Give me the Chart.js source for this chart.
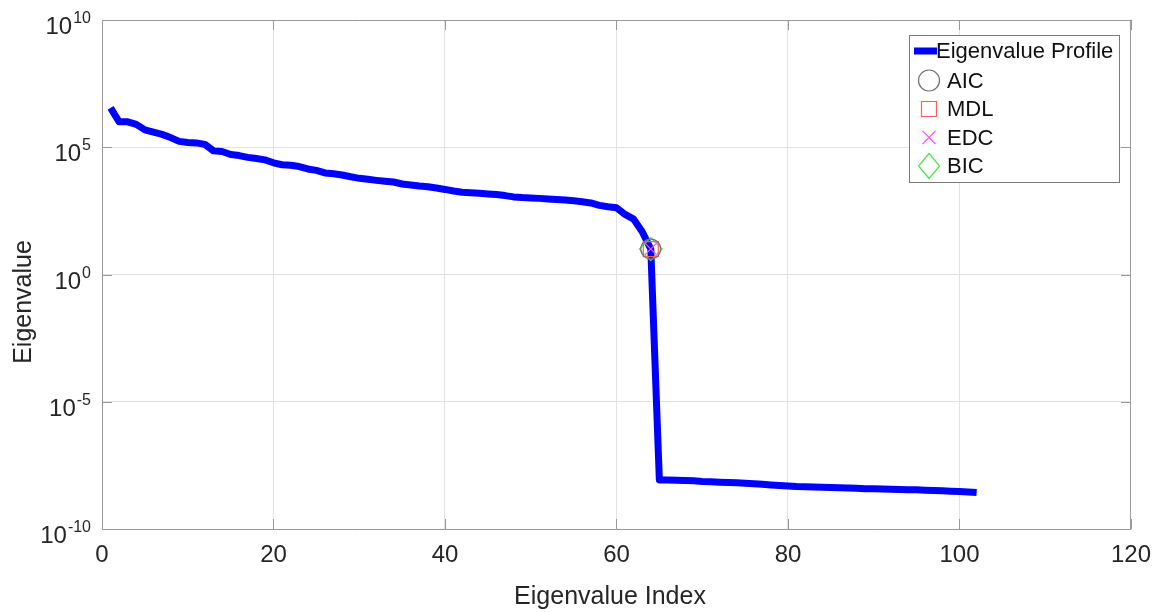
<!DOCTYPE html>
<html>
<head>
<meta charset="utf-8">
<script src="https://cdn.jsdelivr.net/npm/chart.js@4/dist/chart.umd.min.js"></script>
<style>
  html, body { margin: 0; padding: 0; background: #ffffff; }
  #wrap { width: 1163px; height: 612px; }
</style>
</head>
<body>
<div id="wrap"><canvas id="c" width="1163" height="612"></canvas></div>
<script>
// Sorted eigenvalues, index 1..102
const eigenvalues = [
  3.5e6, 1.0e6, 1.0e6, 7.9e5, 4.8e5, 3.9e5, 3.2e5, 2.4e5, 1.7e5, 1.55e5,
  1.48e5, 1.3e5, 7.2e4, 6.8e4, 5.2e4, 4.7e4, 4.0e4, 3.6e4, 3.2e4, 2.45e4,
  2.05e4, 1.95e4, 1.75e4, 1.4e4, 1.23e4, 9.8e3, 9.1e3, 8.1e3, 6.9e3, 6.0e3,
  5.5e3, 5.0e3, 4.6e3, 4.3e3, 3.6e3, 3.3e3, 3.0e3, 2.8e3, 2.5e3, 2.2e3,
  1.9e3, 1.7e3, 1.62e3, 1.55e3, 1.45e3, 1.38e3, 1.26e3, 1.12e3, 1.05e3, 1.02e3,
  980, 930, 890, 850, 790, 720, 650, 520, 460, 420,
  230, 150, 48, 10, 8.5e-9, 8.4e-9, 8.3e-9, 8.1e-9, 7.8e-9, 7.4e-9,
  7.2e-9, 6.9e-9, 6.7e-9, 6.5e-9, 6.3e-9, 6.0e-9, 5.7e-9, 5.4e-9, 5.1e-9, 4.9e-9,
  4.7e-9, 4.6e-9, 4.5e-9, 4.4e-9, 4.3e-9, 4.2e-9, 4.1e-9, 4.0e-9, 3.85e-9, 3.8e-9,
  3.7e-9, 3.65e-9, 3.55e-9, 3.5e-9, 3.45e-9, 3.35e-9, 3.25e-9, 3.15e-9, 3.05e-9, 3.0e-9,
  2.85e-9, 2.7e-9
];
const eigenIndex = eigenvalues.map((_, i) => i + 1);

// Model-order estimates from each criterion (all pick the same index)
const criteriaNames = ['AIC', 'MDL', 'EDC', 'BIC'];
const criteriaOrder = [64, 64, 64, 64];

// Axis ticks and titles
const xTicks = [0, 20, 40, 60, 80, 100, 120];
const yTickExponents = [10, 5, 0, -5, -10];
const xTitle = 'Eigenvalue Index';
const yTitle = 'Eigenvalue';

const FONT = '"Liberation Sans", Arial, Helvetica, sans-serif';
const TEXT = '#262626';
const AXIS = '#999999';
const GRID = '#e2e2e2';

const markerStyles = {
  AIC: { pointStyle: 'circle',   radius: 10,   color: '#707070' },
  MDL: { pointStyle: 'rect',     radius: 10.6, color: '#ff5c5c' },
  EDC: { pointStyle: 'crossRot', radius: 9,    color: '#ff55ff' },
  BIC: { pointStyle: 'rectRot',  radius: 11.5, color: '#44e844' }
};

const profilePoints = eigenIndex.map((k, i) => ({ x: k, y: eigenvalues[i] }));

const criteriaSets = criteriaNames.map((name, j) => {
  const k = criteriaOrder[j];
  const st = markerStyles[name];
  return {
    label: name,
    data: [{ x: k, y: eigenvalues[k - 1] }],
    showLine: false,
    pointStyle: st.pointStyle,
    pointRadius: st.radius,
    pointHoverRadius: st.radius,
    pointBorderColor: st.color,
    pointBackgroundColor: 'rgba(0,0,0,0)',
    pointBorderWidth: 1.2,
    borderColor: st.color,
    backgroundColor: 'rgba(0,0,0,0)',
    order: 0
  };
});

// Box frame and inward tick marks on all four sides
const framePlugin = {
  id: 'frame',
  beforeDatasetsDraw(chart) {
    const { ctx, chartArea: a, scales } = chart;
    ctx.save();
    ctx.strokeStyle = AXIS;
    ctx.lineWidth = 1;
    ctx.beginPath();
    ctx.moveTo(a.left, a.top + 0.5); ctx.lineTo(a.right, a.top + 0.5);
    ctx.moveTo(a.right - 0.5, a.top); ctx.lineTo(a.right - 0.5, a.bottom);
    const L = 10;
    xTicks.forEach(v => {
      const px = Math.round(scales.x.getPixelForValue(v)) + 0.5;
      ctx.moveTo(px, a.bottom); ctx.lineTo(px, a.bottom - L);
      ctx.moveTo(px, a.top); ctx.lineTo(px, a.top + L);
    });
    yTickExponents.forEach(e => {
      const py = Math.round(scales.y.getPixelForValue(Math.pow(10, e))) + 0.5;
      ctx.moveTo(a.left, py); ctx.lineTo(a.left + L, py);
      ctx.moveTo(a.right, py); ctx.lineTo(a.right - L, py);
    });
    ctx.stroke();
    ctx.restore();
  }
};

function drawMarker(ctx, style, x, y) {
  ctx.save();
  ctx.strokeStyle = style.color;
  ctx.lineWidth = 1.2;
  ctx.beginPath();
  if (style.pointStyle === 'circle') {
    ctx.arc(x, y, 10.5, 0, Math.PI * 2);
  } else if (style.pointStyle === 'rect') {
    ctx.rect(x - 7.5, y - 7.5, 15, 15);
  } else if (style.pointStyle === 'crossRot') {
    ctx.moveTo(x - 6.5, y - 6.5); ctx.lineTo(x + 6.5, y + 6.5);
    ctx.moveTo(x + 6.5, y - 6.5); ctx.lineTo(x - 6.5, y + 6.5);
  } else {
    ctx.moveTo(x, y - 12.5); ctx.lineTo(x + 10.5, y);
    ctx.lineTo(x, y + 12.5); ctx.lineTo(x - 10.5, y); ctx.closePath();
  }
  ctx.stroke();
  ctx.restore();
}

// Power-of-ten tick labels, axis titles and the legend box
const overlayPlugin = {
  id: 'overlay',
  afterDraw(chart) {
    const { ctx, scales } = chart;
    ctx.save();
    ctx.fillStyle = TEXT;
    ctx.textBaseline = 'alphabetic';
    yTickExponents.forEach(e => {
      const py = scales.y.getPixelForValue(Math.pow(10, e));
      const sup = String(e);
      ctx.font = '16px ' + FONT;
      const supW = ctx.measureText(sup).width;
      const right = 91;
      ctx.textAlign = 'left';
      ctx.fillText(sup, right - supW, py + 3);
      ctx.font = '24px ' + FONT;
      ctx.textAlign = 'right';
      ctx.fillText('10', right - supW - 1, py + 14);
    });

    // axis titles
    ctx.font = '25px ' + FONT;
    ctx.textAlign = 'center';
    ctx.textBaseline = 'alphabetic';
    ctx.fillText(xTitle, 610, 604);
    ctx.save();
    ctx.translate(31, 302);
    ctx.rotate(-Math.PI / 2);
    ctx.fillText(yTitle, 0, 0);
    ctx.restore();

    // legend
    const bx = 909.5, by = 35.5, bw = 210, bh = 147;
    ctx.fillStyle = '#ffffff';
    ctx.fillRect(bx, by, bw, bh);
    ctx.strokeStyle = '#7a7a7a';
    ctx.lineWidth = 1;
    ctx.strokeRect(bx, by, bw, bh);

    const ds = chart.data.datasets;
    const rowY = [51, 80.5, 109, 137.5, 166];
    ctx.font = '22px ' + FONT;
    ctx.textAlign = 'left';
    ctx.textBaseline = 'middle';

    ctx.strokeStyle = ds[0].borderColor;
    ctx.lineWidth = 7;
    ctx.beginPath();
    ctx.moveTo(914, rowY[0]); ctx.lineTo(937, rowY[0]);
    ctx.stroke();
    ctx.fillStyle = '#111111';
    ctx.fillText(ds[0].label, 936, rowY[0] + 1);

    for (let j = 1; j < ds.length; j++) {
      drawMarker(ctx, markerStyles[ds[j].label], 929, rowY[j]);
      ctx.fillStyle = '#111111';
      ctx.fillText(ds[j].label, 947, rowY[j] + 1);
    }
    ctx.restore();
  }
};

new Chart(document.getElementById('c'), {
  type: 'line',
  data: {
    datasets: [
      {
        label: 'Eigenvalue Profile',
        data: profilePoints,
        borderColor: '#0000ff',
        backgroundColor: '#0000ff',
        borderWidth: 7,
        pointRadius: 0,
        pointHoverRadius: 0,
        tension: 0,
        borderJoinStyle: 'round',
        borderCapStyle: 'butt',
        fill: false,
        order: 5
      },
      ...criteriaSets
    ]
  },
  options: {
    responsive: false,
    devicePixelRatio: 1,
    animation: false,
    events: [],
    layout: { padding: { left: 0, right: 30, top: 20, bottom: 0 } },
    plugins: {
      legend: { display: false },
      tooltip: { enabled: false },
      title: { display: false }
    },
    scales: {
      x: {
        type: 'linear',
        min: 0,
        max: 120,
        afterBuildTicks(scale) { scale.ticks = xTicks.map(v => ({ value: v })); },
        afterFit(scale) { scale.height = 83; },
        ticks: {
          color: TEXT,
          font: { family: FONT, size: 24 },
          padding: 12,
          maxRotation: 0
        },
        grid: { color: GRID, lineWidth: 1, drawTicks: false, tickLength: 0 },
        border: { display: true, color: AXIS, width: 1 },
        title: { display: false }
      },
      y: {
        type: 'logarithmic',
        min: 1e-10,
        max: 1e10,
        afterBuildTicks(scale) { scale.ticks = yTickExponents.map(e => ({ value: Math.pow(10, e) })); },
        afterFit(scale) { scale.width = 102; },
        ticks: { display: false },
        grid: { color: GRID, lineWidth: 1, drawTicks: false, tickLength: 0 },
        border: { display: true, color: AXIS, width: 1 },
        title: { display: false }
      }
    }
  },
  plugins: [framePlugin, overlayPlugin]
});
</script>
</body>
</html>
